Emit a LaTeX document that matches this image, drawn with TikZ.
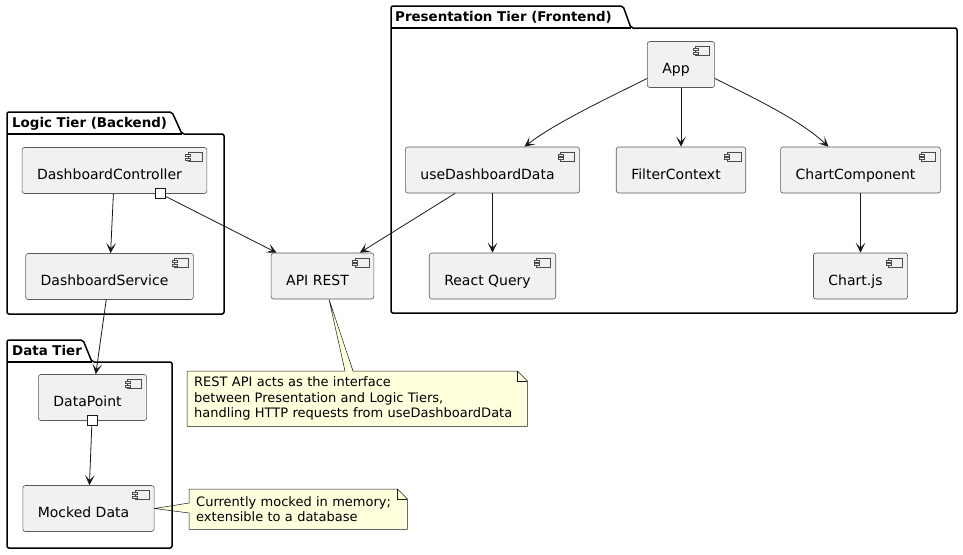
\documentclass[tikz,border=0pt]{standalone}
\usepackage{fontspec}
\setmainfont{DejaVu Sans}
\usetikzlibrary{arrows.meta}
\pgfdeclarelayer{background}
\pgfsetlayers{background,main}
\definecolor{compfill}{HTML}{F1F1F1}
\definecolor{notefill}{HTML}{FEFFDD}
\definecolor{edge}{HTML}{181818}

\begin{document}
\begin{tikzpicture}
			[
				x = 1pt, y = -1pt,
				comp/.style = {rectangle, rounded corners = 2.5pt, draw = black!65, line width = 0.6pt, fill = compfill, minimum height = 46pt, inner xsep = 0pt, inner ysep = 0pt, text height = 32pt, text depth = 14pt, font = \fontsize{14}{16}\selectfont, execute at begin node = \hspace*{15pt}, execute at end node = \hspace*{25pt},
					path picture = {
						\draw [sharp corners, line width = 0.5pt, draw = black!70, fill = compfill] ([xshift = -19pt, yshift = -5pt]path picture bounding box.north east) rectangle ++(14pt, -9pt);
						\draw [sharp corners, line width = 0.5pt, draw = black!70, fill = compfill] ([xshift = -21.5pt, yshift = -7pt]path picture bounding box.north east) rectangle ++(5pt, -2pt);
						\draw [sharp corners, line width = 0.5pt, draw = black!70, fill = compfill] ([xshift = -21.5pt, yshift = -10.5pt]path picture bounding box.north east) rectangle ++(5pt, -2pt);
					}},
				port/.style = {rectangle, draw = edge, line width = 0.8pt, fill = white, minimum size = 10pt, inner sep = 0pt},
				tier/.style = {draw = black, line width = 1.5pt, rounded corners = 2pt},
				tiertitle/.style = {inner sep = 0pt, font = \bfseries\fontsize{13.4}{16}\selectfont},
				note/.style = {align = left, inner xsep = 7pt, inner ysep = 0pt, font = \fontsize{13}{15.3}\selectfont},
				notebox/.style = {draw = edge, line width = 0.5pt, fill = notefill},
				arrow/.style = {draw = edge, line width = 0.8pt, -{Stealth[length = 10pt, width = 9.5pt, inset = 5pt]}},
			]
			\useasboundingbox (0,0) rectangle (963,554);

			% tiers
			\draw [tier] (391,313) -- (391,6) -- (623,6) -- (631,28) -- (957,28) -- (957,313) -- cycle;
			\draw [tier] (391,28) -- (631,28);
			\node (prestitle) [tiertitle, anchor = base west] at (395,21) {Presentation Tier (Frontend)};

			\draw [tier] (7,314) -- (7,112) -- (172,112) -- (182,134) -- (224,134) -- (224,314) -- cycle;
			\draw [tier] (7,134) -- (182,134);
			\node (logictitle) [tiertitle, anchor = base west] at (12,127) {Logic Tier (Backend)};

			\draw [tier] (7,548) -- (7,340) -- (83,340) -- (92,362) -- (172,362) -- (172,548) -- cycle;
			\draw [tier] (7,362) -- (92,362);
			\node (datatitle) [tiertitle, anchor = base west] at (12,355) {Data Tier};

			% components
			\node (app) [comp] at (681,64.5) {App};
			\node (use) [comp] at (492.5,170) {useDashboardData};
			\node (filter) [comp] at (681,170) {FilterContext};
			\node (chart) [comp] at (860.5,170) {ChartComponent};
			\node (react) [comp] at (492.5,276) {React Query};
			\node (chartjs) [comp] at (860.5,276) {Chart.js};
			\node (api) [comp] at (322.5,276) {API REST};
			\node (ctrl) [comp] at (114.5,170.5) {DashboardController};
			\node (service) [comp] at (109.5,276.5) {DashboardService};
			\node (datapoint) [comp] at (92.5,397.5) {DataPoint};
			\node (mocked) [comp] at (88.5,508.5) {Mocked Data};

			\node (ctrlport) [port] at ([xshift = 46pt]ctrl.south) {};
			\node (dataport) [port] at ([xshift = -0.5pt]datapoint.south) {};

			% connectors
			\draw [arrow] ([yshift = -14pt]app.west) .. controls (607,98.5) and (555,123) .. ([xshift = 32pt]use.north);
			\draw [arrow] (app) -- (filter);
			\draw [arrow] ([yshift = -14pt]app.east) .. controls (755,98.5) and (800,120) .. ([xshift = -32pt]chart.north);
			\draw [arrow] (use) -- (react);
			\draw [arrow] (chart) -- (chartjs);
			\draw [arrow] (use) -- (api);
			\draw [arrow] (ctrlport) -- (api);
			\draw [arrow] (ctrl) -- (service);
			\draw [arrow] (service) -- (datapoint);
			\draw [arrow] (dataport) -- (mocked);

			% notes
			\node (restnote) [note, text width = 326pt, minimum height = 55pt, anchor = north west] at (187,371) {REST API acts as the interface\\between Presentation and Logic Tiers,\\handling HTTP requests from useDashboardData};
			\node (mocknote) [note, text width = 204pt, minimum height = 40pt, anchor = north west] at (189,489) {Currently mocked in memory;\\extensible to a database};
			\begin{pgfonlayer}{background}
				\draw [notebox] (restnote.north west) -- ([xshift = 158pt]restnote.north west) -- ([xshift = 6.5pt]api.south) -- ([xshift = 166pt]restnote.north west) -- ([xshift = -10pt]restnote.north east) -- ([yshift = -10pt]restnote.north east) -- (restnote.south east) -- (restnote.south west) -- cycle;
				\draw [notebox] (mocknote.north west) -- ([xshift = -10pt]mocknote.north east) -- ([yshift = -10pt]mocknote.north east) -- (mocknote.south east) -- (mocknote.south west) -- ([yshift = -24pt]mocknote.north west) -- (mocked.east) -- ([yshift = -14pt]mocknote.north west) -- cycle;
			\end{pgfonlayer}
			\draw [draw = edge, line width = 0.5pt] ([xshift = -10pt]restnote.north east) -- ++(0pt,-10pt) -- ([yshift = -10pt]restnote.north east);
			\draw [draw = edge, line width = 0.5pt] ([xshift = -10pt]mocknote.north east) -- ++(0pt,-10pt) -- ([yshift = -10pt]mocknote.north east);
		\end{tikzpicture}
\end{document}
